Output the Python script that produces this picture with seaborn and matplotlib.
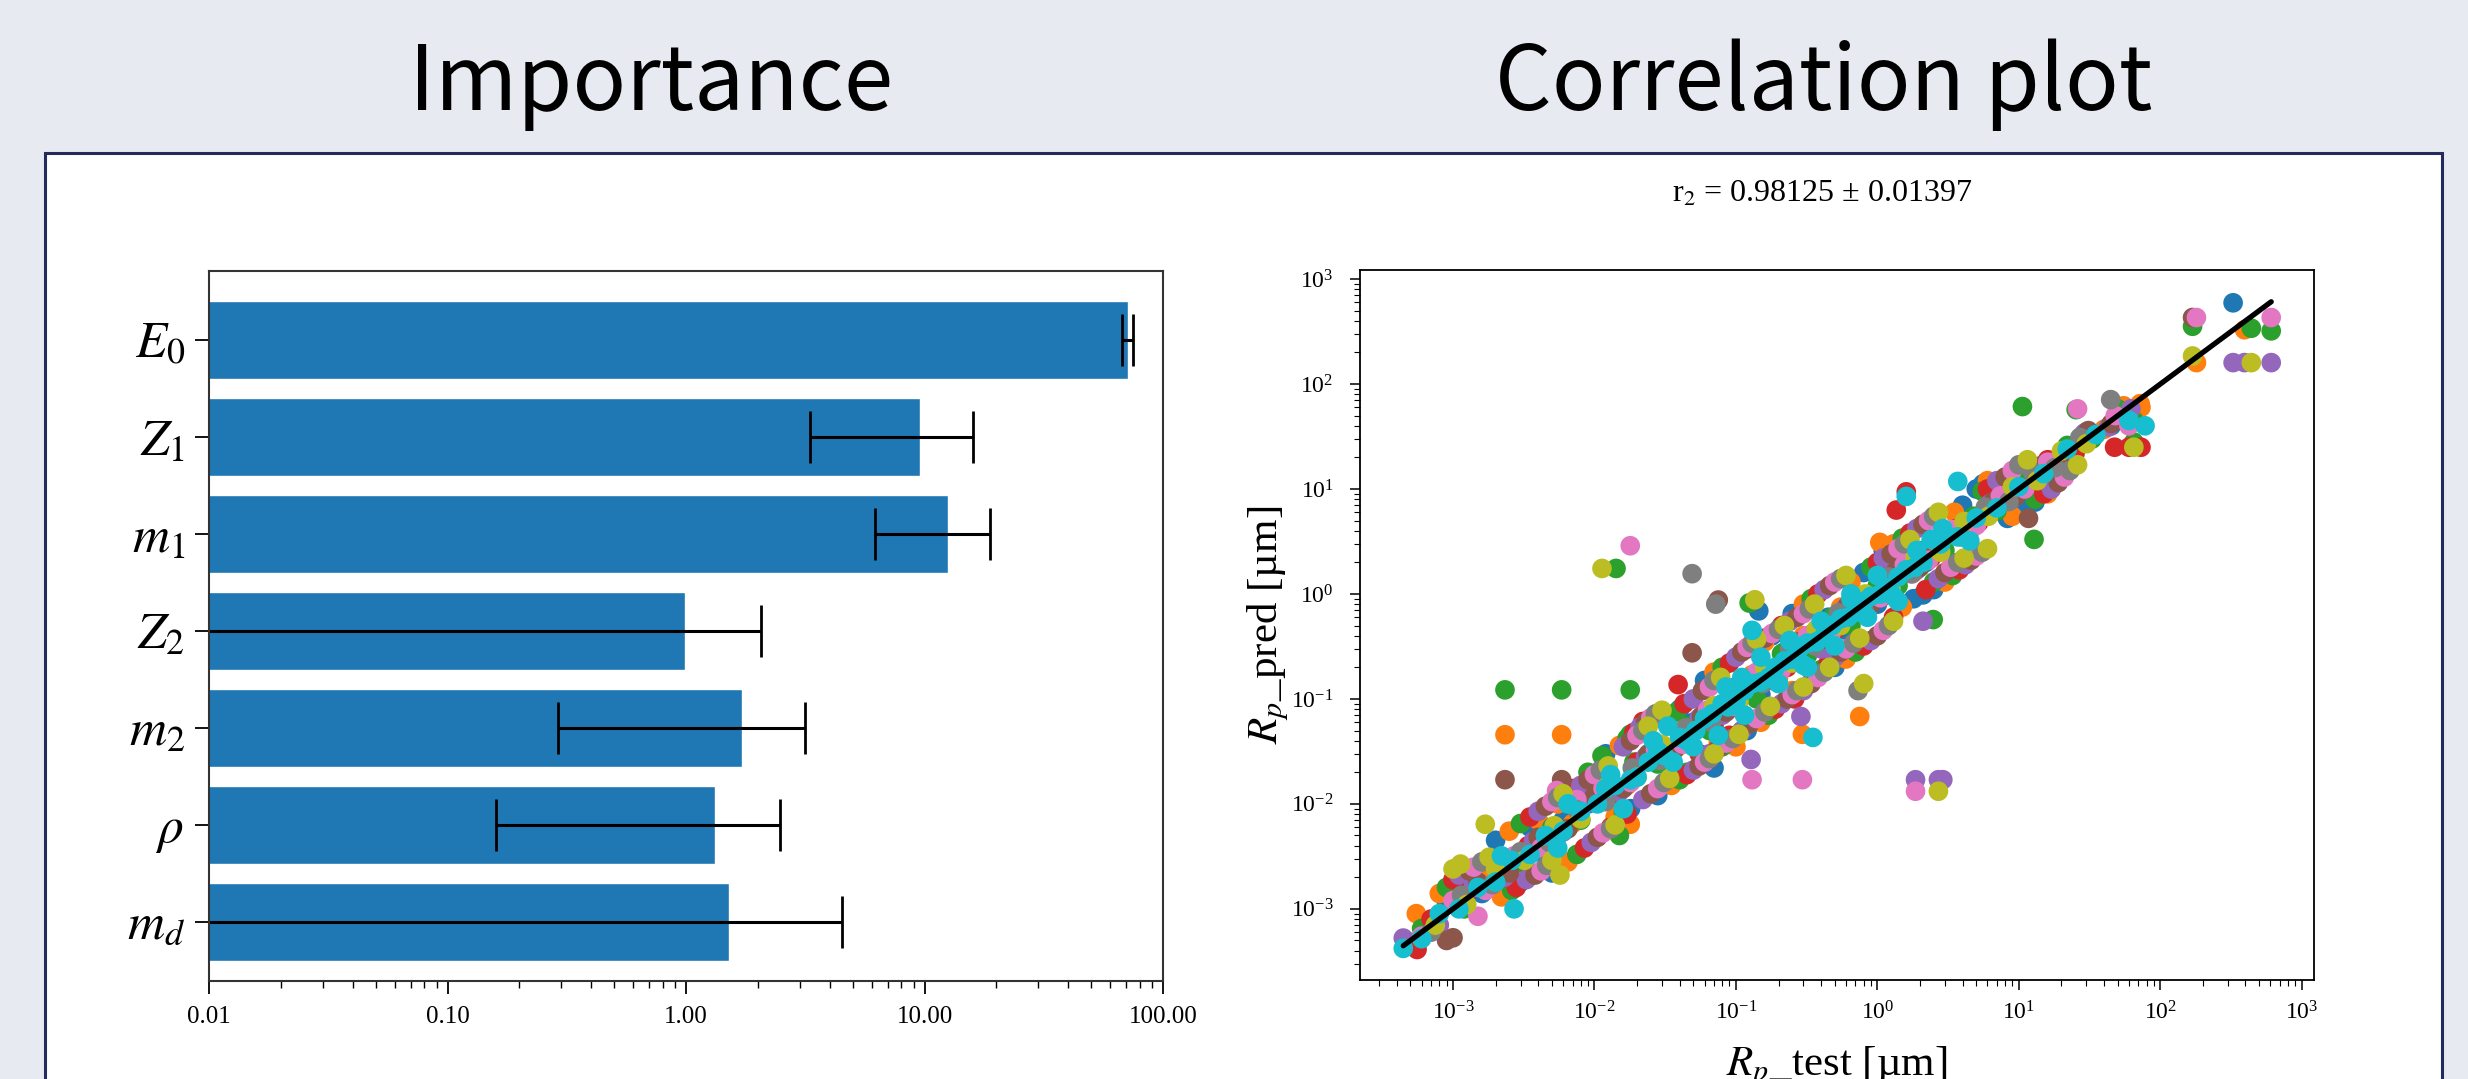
import matplotlib
matplotlib.use('Agg')
import matplotlib.pyplot as plt
from matplotlib.patches import Rectangle
from matplotlib.ticker import FormatStrFormatter, NullFormatter, LogLocator
import numpy as np
import pandas as pd
import seaborn as sns

sns.set_theme(style='ticks')
plt.rcParams['font.family'] = ['Liberation Serif', 'DejaVu Serif']
plt.rcParams['mathtext.fontset'] = 'stix'
for k in ['text.color', 'axes.labelcolor', 'xtick.color', 'ytick.color']:
    plt.rcParams[k] = 'black'

W, H = 2468, 1079

# --- Importance (bar chart) ---
features = ['$E_0$', '$Z_1$', '$m_1$', '$Z_2$', '$m_2$', '$\\rho$ ', '$m_d$']
importance = [71.0, 9.6, 12.5, 0.99, 1.72, 1.32, 1.52]
importance_err = [3.5, 6.3, 6.3, 1.08, 1.43, 1.16, 2.98]
xtick_vals = [0.01, 0.1, 1, 10, 100]

# --- Correlation plot: (Rp_test, Rp_pred) pairs per fold ---
fold0 = [(5.0e-4, 4.8e-4), (9.0e-4, 1.1e-3), (1.6e-3, 1.4e-3), (2.4e-3, 3.0e-3), (4.0e-3, 3.5e-3),
         (6.0e-3, 7.0e-3), (9.0e-3, 1.0e-2), (1.4e-2, 1.2e-2), (2.2e-2, 2.6e-2), (3.3e-2, 3.0e-2),
         (5.0e-2, 6.0e-2), (7.0e-2, 5.5e-2), (0.10, 0.13), (0.15, 0.11), (0.22, 0.28), (0.30, 0.25),
         (0.45, 0.60), (0.60, 0.45), (0.70, 0.95), (1.0, 0.80), (1.5, 1.9), (2.2, 2.0), (3.2, 3.8),
         (4.5, 4.0), (6.5, 7.5), (9.0, 8.0), (14, 16), (20, 18), (30, 35), (45, 40), (60, 55),
         (1.2e-3, 2.0e-3), (3.0e-3, 1.8e-3), (7.5e-3, 1.3e-2), (1.8e-2, 9.0e-3), (4.0e-2, 8.0e-2),
         (8.5e-2, 4.0e-2), (0.18, 0.40), (0.35, 0.17), (0.80, 1.6), (1.8, 0.90), (4.0, 7.0), (11, 6.5),
         (2.0e-3, 4.5e-3), (5.0e-3, 2.2e-3), (1.2e-2, 3.0e-2), (2.8e-2, 1.2e-2), (6.0e-2, 0.15),
         (0.12, 0.050), (0.25, 0.65), (0.50, 0.20), (1.1, 2.6), (2.5, 1.1), (5.0, 10), (13, 7.5),
         (3.5e-3, 6.0e-3), (0.070, 0.022),
         (5.57, 11.2), (327, 594), (0.145, 0.69), (8.3, 5.25), (2.1, 0.98)]
fold1 = [(5.5e-4, 9.0e-4), (6.5e-4, 7.0e-4), (1.1e-3, 1.3e-3), (1.8e-3, 2.2e-3), (2.8e-3, 2.4e-3),
         (4.5e-3, 5.5e-3), (7.0e-3, 6.5e-3), (1.1e-2, 1.3e-2), (1.7e-2, 1.5e-2), (2.6e-2, 3.2e-2),
         (4.0e-2, 3.6e-2), (6.0e-2, 7.5e-2), (9.0e-2, 8.0e-2), (0.13, 0.17), (0.20, 0.16), (0.30, 0.40),
         (0.40, 0.33), (0.55, 0.75), (0.80, 0.70), (1.2, 1.5), (1.8, 1.6), (2.7, 3.3), (4.0, 3.7),
         (6.0, 7.0), (8.0, 7.5), (12, 14), (18, 17), (28, 32), (40, 37), (55, 62), (72, 65),
         (8.0e-4, 1.4e-3), (2.2e-3, 1.3e-3), (5.5e-3, 1.0e-2), (1.4e-2, 7.5e-3), (3.3e-2, 6.5e-2),
         (7.5e-2, 3.8e-2), (0.16, 0.35), (0.25, 0.12), (0.65, 1.3), (1.5, 0.75), (3.5, 6.0), (9.0, 5.5),
         (2.5e-3, 5.5e-3), (6.5e-3, 2.8e-3), (1.5e-2, 3.6e-2), (3.5e-2, 1.5e-2), (7.0e-2, 0.18),
         (0.15, 0.060), (0.30, 0.80), (0.60, 0.24), (1.3, 3.0), (3.0, 1.3), (6.0, 12), (16, 9.0),
         (4.0e-3, 7.0e-3), (0.10, 0.035),
         (2.33e-3, 0.0456), (5.86e-3, 0.0456), (0.295, 0.046), (0.75, 0.068), (1.04, 3.1),
         (73, 60), (394, 329), (180, 160), (0.0179, 6.4e-3)]
fold2 = [(6.0e-4, 6.5e-4), (1.2e-3, 1.0e-3), (2.0e-3, 2.5e-3), (3.2e-3, 2.7e-3), (5.0e-3, 6.0e-3),
         (8.0e-3, 7.0e-3), (1.2e-2, 1.6e-2), (1.9e-2, 2.5e-2), (2.8e-2, 2.4e-2), (4.5e-2, 5.5e-2),
         (6.5e-2, 5.0e-2), (0.10, 0.12), (0.14, 0.10), (0.21, 0.27), (0.32, 0.26), (0.48, 0.60),
         (0.65, 0.50), (1.0, 1.2), (1.4, 1.2), (2.1, 2.6), (3.0, 2.6), (4.8, 5.5), (7.0, 6.2),
         (10, 12), (15, 13), (22, 26), (33, 30), (50, 58), (65, 45),
         (9.0e-4, 1.6e-3), (2.6e-3, 1.5e-3), (6.5e-3, 1.2e-2), (1.6e-2, 8.5e-3), (3.8e-2, 7.5e-2),
         (8.0e-2, 3.5e-2), (0.20, 0.45), (0.40, 0.19), (0.90, 1.8), (2.5, 1.3), (5.5, 9.5), (13, 8.0),
         (3.0e-3, 6.5e-3), (7.5e-3, 3.3e-3), (1.7e-2, 4.2e-2), (4.0e-2, 1.7e-2), (8.0e-2, 0.20),
         (0.17, 0.070), (0.34, 0.90), (0.70, 0.28), (1.5, 3.4), (3.4, 1.5), (0.015, 0.005),
         (0.030, 0.065), (0.045, 0.020), (0.009, 0.020),
         (2.33e-3, 0.122), (5.86e-3, 0.122), (0.0179, 0.122), (0.0179, 0.046), (0.0142, 1.75),
         (10.6, 61), (12.8, 3.31), (2.48, 0.57), (25.4, 57), (65, 28), (169, 355), (440, 340),
         (608, 321), (0.124, 0.82), (0.0113, 0.0287)]
fold3 = [(5.57e-4, 4.1e-4), (7.0e-4, 8.0e-4), (1.3e-3, 1.5e-3), (2.1e-3, 1.9e-3), (3.4e-3, 4.0e-3),
         (5.5e-3, 5.0e-3), (8.5e-3, 1.0e-2), (1.3e-2, 1.15e-2), (2.0e-2, 2.5e-2), (3.0e-2, 3.5e-2),
         (4.5e-2, 4.0e-2), (7.0e-2, 6.0e-2), (0.10, 0.09), (0.15, 0.19), (0.23, 0.20), (0.35, 0.42),
         (0.50, 0.45), (0.75, 0.90), (1.1, 0.95), (1.6, 1.9), (2.4, 2.2), (3.6, 4.2), (5.2, 4.8),
         (7.8, 9.0), (11, 10), (16, 19), (25, 22), (47.5, 25), (73, 25),
         (1.0e-3, 1.9e-3), (2.8e-3, 1.6e-3), (7.0e-3, 1.4e-2), (1.7e-2, 8.0e-3), (4.3e-2, 9.0e-2),
         (9.0e-2, 4.5e-2), (0.21, 0.50), (0.45, 0.22), (1.0, 2.0), (2.2, 1.1), (6.0, 10), (15, 9.0),
         (3.5e-3, 7.5e-3), (8.5e-3, 3.8e-3), (1.9e-2, 4.8e-2), (4.5e-2, 1.9e-2), (9.0e-2, 0.22),
         (0.19, 0.080), (0.38, 1.0), (0.80, 0.32), (1.7, 3.8), (3.8, 1.7), (0.013, 0.006),
         (0.055, 0.030), (0.12, 0.30), (0.26, 0.10),
         (1.36, 6.3), (1.6, 9.4), (0.065, 0.027), (0.039, 0.137), (0.022, 0.061), (1.3, 0.60), (60, 25)]
fold4 = [(4.45e-4, 5.27e-4), (8.0e-4, 7.0e-4), (1.4e-3, 1.7e-3), (2.3e-3, 2.0e-3), (3.7e-3, 4.4e-3),
         (6.0e-3, 5.4e-3), (9.5e-3, 1.15e-2), (1.5e-2, 1.3e-2), (2.3e-2, 2.8e-2), (3.5e-2, 3.1e-2),
         (5.5e-2, 6.6e-2), (8.0e-2, 7.0e-2), (0.12, 0.15), (0.18, 0.15), (0.27, 0.33), (0.40, 0.30),
         (0.60, 0.75), (0.85, 0.70), (1.3, 1.6), (1.9, 1.7), (2.9, 3.4), (4.2, 3.8), (6.2, 7.2),
         (9.0, 8.0), (13, 15), (19, 17), (29, 34), (43, 39), (62, 58),
         (1.1e-3, 2.1e-3), (3.3e-3, 1.9e-3), (8.0e-3, 1.5e-2), (2.2e-2, 1.1e-2), (5.0e-2, 0.10),
         (0.11, 0.050), (0.24, 0.55), (0.50, 0.25), (1.1, 2.2), (2.7, 1.4), (7.0, 12), (17, 10),
         (4.0e-3, 8.5e-3), (9.5e-3, 4.3e-3), (2.1e-2, 5.4e-2), (5.0e-2, 2.1e-2), (0.10, 0.25),
         (0.21, 0.090), (0.42, 1.1), (0.90, 0.36), (1.9, 4.2), (4.2, 1.9), (0.016, 0.035),
         (0.065, 0.030), (0.14, 0.33), (0.30, 0.12),
         (1.86, 0.017), (2.7, 0.017), (2.9, 0.017), (0.128, 0.0265), (327, 160), (394, 160),
         (608, 160), (0.288, 0.068), (2.1, 0.55)]
fold5 = [(1.0e-3, 5.3e-4), (9.0e-4, 5.0e-4), (1.5e-3, 1.8e-3), (2.5e-3, 2.2e-3), (4.0e-3, 4.8e-3),
         (6.5e-3, 5.8e-3), (1.0e-2, 1.2e-2), (1.6e-2, 1.4e-2), (2.4e-2, 3.0e-2), (3.7e-2, 3.3e-2),
         (5.7e-2, 6.8e-2), (8.5e-2, 7.5e-2), (0.13, 0.16), (0.19, 0.17), (0.28, 0.35), (0.42, 0.37),
         (0.62, 0.78), (0.90, 0.80), (1.35, 1.65), (2.0, 1.8), (3.0, 3.6), (4.4, 4.0), (6.6, 7.6),
         (9.5, 8.5), (14, 16.5), (20, 19), (31, 36), (45, 42),
         (1.3e-3, 2.3e-3), (3.8e-3, 2.1e-3), (9.0e-3, 1.7e-2), (2.5e-2, 1.25e-2), (5.8e-2, 0.12),
         (0.125, 0.058), (0.27, 0.60), (0.55, 0.28), (1.25, 2.4), (3.0, 1.6), (8.0, 13), (19, 11.5),
         (4.5e-3, 9.5e-3), (1.05e-2, 4.8e-3), (2.3e-2, 6.0e-2), (5.5e-2, 2.3e-2), (0.11, 0.28),
         (0.23, 0.10), (0.46, 1.2), (1.0, 0.40), (2.1, 4.6), (4.6, 2.1), (0.018, 0.040),
         (0.075, 0.034), (0.16, 0.38), (0.34, 0.14),
         (2.33e-3, 0.017), (5.86e-3, 0.017), (0.049, 0.275), (11.7, 5.25), (169, 430), (0.075, 0.875)]
fold6 = [(6.0e-4, 5.5e-4), (1.0e-3, 1.2e-3), (1.5e-3, 8.5e-4), (1.7e-3, 1.5e-3), (2.7e-3, 3.2e-3),
         (4.2e-3, 3.8e-3), (5.5e-3, 1.15e-2), (7.5e-3, 1.1e-2), (1.15e-2, 1.4e-2), (1.8e-2, 1.6e-2),
         (2.7e-2, 3.3e-2), (4.2e-2, 3.7e-2), (6.3e-2, 7.8e-2), (9.5e-2, 8.5e-2), (0.14, 0.18),
         (0.21, 0.19), (0.32, 0.40), (0.47, 0.42), (0.70, 0.88), (1.05, 0.92), (1.55, 1.9), (2.3, 2.1),
         (3.4, 4.1), (5.0, 4.5), (7.4, 8.6), (11, 10), (16, 18), (26, 58), (48, 50), (60, 40),
         (1.4e-3, 2.5e-3), (4.2e-3, 2.3e-3), (1.0e-2, 1.9e-2), (2.8e-2, 1.4e-2), (6.5e-2, 0.13),
         (0.14, 0.065), (0.30, 0.65), (0.60, 0.30), (1.4, 2.7), (3.3, 1.8), (9.0, 15), (21, 13),
         (5.0e-3, 1.05e-2), (1.15e-2, 5.3e-3), (2.5e-2, 6.6e-2), (6.0e-2, 2.5e-2), (0.12, 0.31),
         (0.25, 0.11), (0.50, 1.3), (1.1, 0.45), (2.3, 5.0), (5.0, 2.3), (0.020, 0.045),
         (0.085, 0.038), (0.18, 0.42), (0.38, 0.16),
         (0.0179, 2.88), (0.13, 0.017), (0.295, 0.017), (1.86, 0.0132), (180, 430), (608, 430),
         (5.4e-3, 0.0134)]
fold7 = [(7.0e-4, 6.0e-4), (1.15e-3, 1.35e-3), (1.9e-3, 1.7e-3), (3.0e-3, 3.5e-3), (4.8e-3, 4.3e-3),
         (7.5e-3, 8.8e-3), (1.2e-2, 1.05e-2), (1.85e-2, 2.2e-2), (2.9e-2, 2.6e-2), (4.4e-2, 5.3e-2),
         (6.7e-2, 6.0e-2), (0.10, 0.125), (0.155, 0.14), (0.24, 0.30), (0.36, 0.32), (0.53, 0.66),
         (0.80, 0.72), (1.2, 1.45), (1.75, 1.55), (2.6, 3.1), (3.9, 3.5), (5.8, 6.7), (8.5, 7.6),
         (12.5, 14.5), (18, 16), (27, 31), (44.6, 71),
         (1.6e-3, 2.8e-3), (4.6e-3, 2.6e-3), (1.1e-2, 2.1e-2), (3.1e-2, 1.6e-2), (7.0e-2, 0.15),
         (0.16, 0.075), (0.33, 0.72), (0.68, 0.34), (1.55, 3.0), (3.7, 2.0), (10, 17), (23, 15),
         (5.5e-3, 1.15e-2), (1.3e-2, 5.8e-3), (2.7e-2, 7.2e-2), (6.5e-2, 2.7e-2), (0.13, 0.34),
         (0.27, 0.12), (0.55, 1.4), (1.2, 0.50), (2.5, 5.5), (5.5, 2.5), (0.022, 0.050),
         (0.095, 0.042), (0.20, 0.46), (0.42, 0.18),
         (0.049, 1.56), (0.73, 0.12), (0.072, 0.80)]
fold8 = [(7.5e-4, 7.0e-4), (1.25e-3, 1.1e-3), (2.0e-3, 2.4e-3), (3.2e-3, 2.9e-3), (5.2e-3, 6.2e-3),
         (8.0e-3, 7.2e-3), (1.25e-2, 1.5e-2), (2.0e-2, 1.8e-2), (3.0e-2, 3.7e-2), (4.6e-2, 4.2e-2),
         (7.0e-2, 8.6e-2), (0.105, 0.095), (0.16, 0.20), (0.25, 0.22), (0.37, 0.46), (0.55, 0.50),
         (0.82, 1.0), (1.25, 1.1), (1.85, 2.2), (2.8, 2.5), (4.1, 4.9), (6.1, 5.5), (9.0, 10.5),
         (13.5, 12), (20, 23), (30, 27), (65, 25),
         (1.8e-3, 3.1e-3), (5.0e-3, 2.9e-3), (1.25e-2, 2.3e-2), (3.4e-2, 1.75e-2), (7.8e-2, 0.16),
         (0.175, 0.085), (0.36, 0.80), (0.75, 0.38), (1.7, 3.3), (4.1, 2.2), (11.5, 19), (26, 17),
         (6.0e-3, 1.25e-2), (1.4e-2, 6.3e-3), (3.0e-2, 7.8e-2), (7.0e-2, 3.0e-2), (0.14, 0.37),
         (0.30, 0.13), (0.60, 1.5), (1.3, 0.55), (2.7, 6.0), (6.0, 2.7), (0.024, 0.055),
         (0.105, 0.046), (0.22, 0.50), (0.46, 0.20),
         (1.13e-3, 2.67e-3), (1.0e-3, 2.4e-3), (1.69e-3, 6.4e-3), (5.7e-3, 2.1e-3), (2.7, 0.0132),
         (0.80, 0.14), (440, 160), (169, 185), (0.0113, 1.75), (0.136, 0.88)]
fold9 = [(4.45e-4, 4.2e-4), (6.0e-4, 5.2e-4), (8.0e-4, 9.0e-4), (1.1e-3, 1.0e-3), (1.5e-3, 1.6e-3),
         (2.0e-3, 1.8e-3), (2.6e-3, 2.9e-3), (2.7e-3, 1.0e-3), (3.5e-3, 3.3e-3), (4.5e-3, 5.0e-3),
         (6.0e-3, 5.5e-3), (8.0e-3, 8.5e-3), (1.05e-2, 1.0e-2), (1.2e-2, 1.4e-2), (1.4e-2, 1.5e-2),
         (1.8e-2, 1.7e-2), (2.0e-2, 1.8e-2), (2.4e-2, 2.5e-2), (2.8e-2, 3.2e-2), (3.1e-2, 2.9e-2),
         (4.0e-2, 4.3e-2), (4.5e-2, 4.0e-2), (5.2e-2, 5.0e-2), (6.0e-2, 6.5e-2), (6.8e-2, 7.2e-2),
         (8.0e-2, 9.0e-2), (8.8e-2, 8.4e-2), (0.10, 0.095), (0.115, 0.12), (0.13, 0.14), (0.15, 0.145),
         (0.17, 0.16), (0.19, 0.20), (0.22, 0.23), (0.25, 0.24), (0.28, 0.30), (0.32, 0.34),
         (0.37, 0.35), (0.42, 0.40), (0.48, 0.50), (0.55, 0.58), (0.62, 0.60), (0.70, 0.67),
         (0.80, 0.85), (0.90, 0.95), (1.05, 1.0), (1.2, 1.15), (1.4, 1.45), (1.6, 1.7), (1.85, 1.8),
         (2.1, 2.0), (2.8, 3.0), (3.7, 3.5), (5.0, 5.3), (7.0, 6.6), (10, 10.5), (15, 14), (22, 24),
         (35, 33), (60, 45),
         (2.2e-3, 3.2e-3), (5.5e-3, 3.8e-3), (1.3e-2, 1.9e-2), (3.6e-2, 2.5e-2), (8.5e-2, 0.13),
         (0.20, 0.14), (0.40, 0.55), (0.85, 0.60), (1.9, 2.6), (4.5, 3.2), (0.050, 0.035),
         (0.11, 0.16), (0.30, 0.21), (0.65, 0.90), (1.3, 0.95), (2.4, 3.3),
         (6.5e-3, 1.0e-2), (1.6e-2, 9.0e-3), (3.3e-2, 5.5e-2), (7.5e-2, 4.5e-2), (0.15, 0.25),
         (0.32, 0.20), (0.65, 1.0), (1.4, 0.85), (2.9, 4.2), (0.026, 0.040), (0.115, 0.070),
         (0.24, 0.36), (0.50, 0.32), (1.0, 1.5),
         (3.7, 11.8), (1.6, 8.5), (0.35, 0.043), (78, 40), (0.13, 0.45)]
folds = [fold0, fold1, fold2, fold3, fold4, fold5, fold6, fold7, fold8, fold9]
r2_text = 'r$_2$ = 0.98125 ± 0.01397'

fig = plt.figure(figsize=(W / 100, H / 100), dpi=100)
fig.patch.set_facecolor('#e7eaf0')

box = Rectangle((45 / W, -0.05), (2442 - 45) / W, (H - 153) / H + 0.05,
                transform=fig.transFigure, facecolor='white', edgecolor='#262b5e',
                linewidth=2.2, zorder=-5)
fig.add_artist(box)

title_font = ['Noto Sans CJK JP', 'DejaVu Sans']
fig.text(651 / W, 1 - 110 / H, 'Importance', ha='center', va='baseline',
         fontsize=64, family=title_font)
fig.text(1824 / W, 1 - 110 / H, 'Correlation plot', ha='center', va='baseline',
         fontsize=64, family=title_font)
fig.text(1822 / W, 1 - 202 / H, r2_text, ha='center', va='baseline', fontsize=23)

# === Importance ===
ax1 = fig.add_axes([209 / W, 1 - 981 / H, 954 / W, 710 / H])
sns.barplot(x=importance, y=features, orient='h', color='#1f77b4', saturation=1,
            width=0.8, errorbar=None, ax=ax1)
ax1.set_xscale('log')
ax1.errorbar(importance, np.arange(len(features)), xerr=importance_err, fmt='none',
             ecolor='black', elinewidth=2.2, capsize=19, capthick=2)
ax1.set_xlim(0.01, 100)
ax1.set_ylim(6.61, -0.71)
ax1.set_xticks(xtick_vals)
ax1.xaxis.set_major_formatter(FormatStrFormatter('%.2f'))
ax1.xaxis.set_minor_locator(LogLocator(subs=np.arange(2, 10), numticks=100))
ax1.xaxis.set_minor_formatter(NullFormatter())
ax1.tick_params(axis='x', which='major', length=9, width=1.3, pad=9, labelsize=18)
ax1.tick_params(axis='x', which='minor', length=5, width=1.0)
ax1.tick_params(axis='y', length=10, width=1.3, pad=7, labelsize=37)
ax1.set_xlabel('')
ax1.set_ylabel('')
for sp in ax1.spines.values():
    sp.set_color('#333333')
    sp.set_linewidth(1.5)

# === Correlation plot ===
df = pd.concat([pd.DataFrame(f, columns=['test', 'pred']).assign(fold=f'fold{i}')
                for i, f in enumerate(folds)], ignore_index=True)

ax2 = fig.add_axes([1360 / W, 1 - 980 / H, 954 / W, 710 / H])
sns.scatterplot(data=df, x='test', y='pred', hue='fold', palette='tab10', s=200,
                linewidth=0, alpha=1, legend=False, ax=ax2)
ax2.set_xscale('log')
ax2.set_yscale('log')
lo, hi = df['test'].min(), df['test'].max()
ax2.plot([lo, hi], [lo, hi], color='black', lw=3.8)
ax2.set_xlim(2.2e-4, 1.22e3)
ax2.set_ylim(2.1e-4, 1.22e3)
for axis in [ax2.xaxis, ax2.yaxis]:
    axis.set_major_locator(LogLocator(numticks=100))
    axis.set_minor_locator(LogLocator(subs=np.arange(2, 10), numticks=100))
    axis.set_minor_formatter(NullFormatter())
ax2.tick_params(axis='both', which='major', length=7, width=1.1, labelsize=17)
ax2.tick_params(axis='both', which='minor', length=4, width=0.8)
ax2.tick_params(axis='x', which='major', pad=8)
ax2.tick_params(axis='y', which='major', pad=12)
ax2.set_xlabel(r'$R_p$_test [µm]', fontsize=31)
ax2.set_ylabel(r'$R_p$_pred [µm]', fontsize=31)
ax2.xaxis.set_label_coords(0.5, -0.0915)
ax2.yaxis.set_label_coords(-0.072, 0.5)
for sp in ax2.spines.values():
    sp.set_color('black')
    sp.set_linewidth(1.3)

fig.savefig('out.png', dpi=100, facecolor=fig.get_facecolor())
